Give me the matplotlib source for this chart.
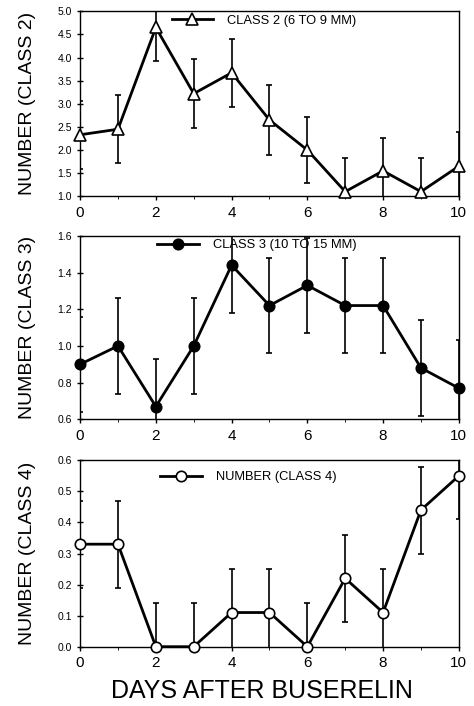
import matplotlib.pyplot as plt

plt.rcParams['font.family'] = ['Liberation Sans', 'DejaVu Sans']

days = [0, 1, 2, 3, 4, 5, 6, 7, 8, 9, 10]

# class 2 (6 to 9 mm)
class2 = [2.33, 2.45, 4.65, 3.22, 3.67, 2.65, 2.0, 1.1, 1.55, 1.1, 1.65]
class2_err = [0.73, 0.73, 0.72, 0.75, 0.73, 0.75, 0.72, 0.72, 0.72, 0.72, 0.73]

# class 3 (10 to 15 mm)
class3 = [0.9, 1.0, 0.67, 1.0, 1.44, 1.22, 1.33, 1.22, 1.22, 0.88, 0.77]
class3_err = [0.26, 0.26, 0.26, 0.26, 0.26, 0.26, 0.26, 0.26, 0.26, 0.26, 0.26]

# class 4
class4 = [0.33, 0.33, 0.0, 0.0, 0.11, 0.11, 0.0, 0.22, 0.11, 0.44, 0.55]
class4_err = [0.14, 0.14, 0.14, 0.14, 0.14, 0.14, 0.14, 0.14, 0.14, 0.14, 0.14]

fig = plt.figure(figsize=(4.74, 7.06), dpi=100)

panels = [
    ([0.169, 0.722, 0.799, 0.262], class2, class2_err, '^', 'white', 'CLASS 2 (6 TO 9 MM)',
     'NUMBER (CLASS 2)', (1.0, 5.0), [1.0, 1.5, 2.0, 2.5, 3.0, 3.5, 4.0, 4.5, 5.0], (0.228, 1.01)),
    ([0.169, 0.406, 0.799, 0.260], class3, class3_err, 'o', 'black', 'CLASS 3 (10 TO 15 MM)',
     'NUMBER (CLASS 3)', (0.6, 1.6), [0.6, 0.8, 1.0, 1.2, 1.4, 1.6], (0.190, 1.01)),
    ([0.169, 0.084, 0.799, 0.264], class4, class4_err, 'o', 'white', 'NUMBER (CLASS 4)',
     'NUMBER (CLASS 4)', (0.0, 0.6), [0.0, 0.1, 0.2, 0.3, 0.4, 0.5, 0.6], (0.198, 0.97)),
]

for rect, vals, errs, mk, mfc, leg, ylab, ylim, yt, anchor in panels:
    ax = fig.add_axes(rect)
    ax.errorbar(days, vals, yerr=errs, fmt='none', ecolor='black', elinewidth=1.2,
                capsize=2, capthick=1.2, zorder=2)
    ax.plot(days, vals, color='black', lw=2.0, marker=mk, markersize=8 if mk == '^' else 7.5,
            markerfacecolor=mfc, markeredgecolor='black', markeredgewidth=1.2,
            label=leg, clip_on=False, zorder=3)
    ax.set_xlim(0, 10)
    ax.set_ylim(*ylim)
    ax.set_yticks(yt)
    ax.set_yticklabels(['%.1f' % v for v in yt], fontsize=7.5)
    ax.set_xticks([0, 2, 4, 6, 8, 10])
    ax.set_xticks(days, minor=True)
    ax.tick_params(axis='x', labelsize=11, direction='out', length=3, width=1, pad=4)
    ax.tick_params(axis='x', which='minor', direction='out', length=2)
    ax.tick_params(axis='y', direction='inout', length=4, width=1, pad=4)
    ax.set_ylabel(ylab, fontsize=14, labelpad=15)
    for sp in ax.spines.values():
        sp.set_linewidth(1.0)
    ax.legend(loc='upper left', frameon=False, fontsize=9.3, handlelength=3.2,
              handletextpad=1.1, borderaxespad=0.0, bbox_to_anchor=anchor)

fig.text(0.553, 0.012, 'DAYS AFTER BUSERELIN', ha='center', fontsize=18)

fig.savefig('out.png', dpi=100)
